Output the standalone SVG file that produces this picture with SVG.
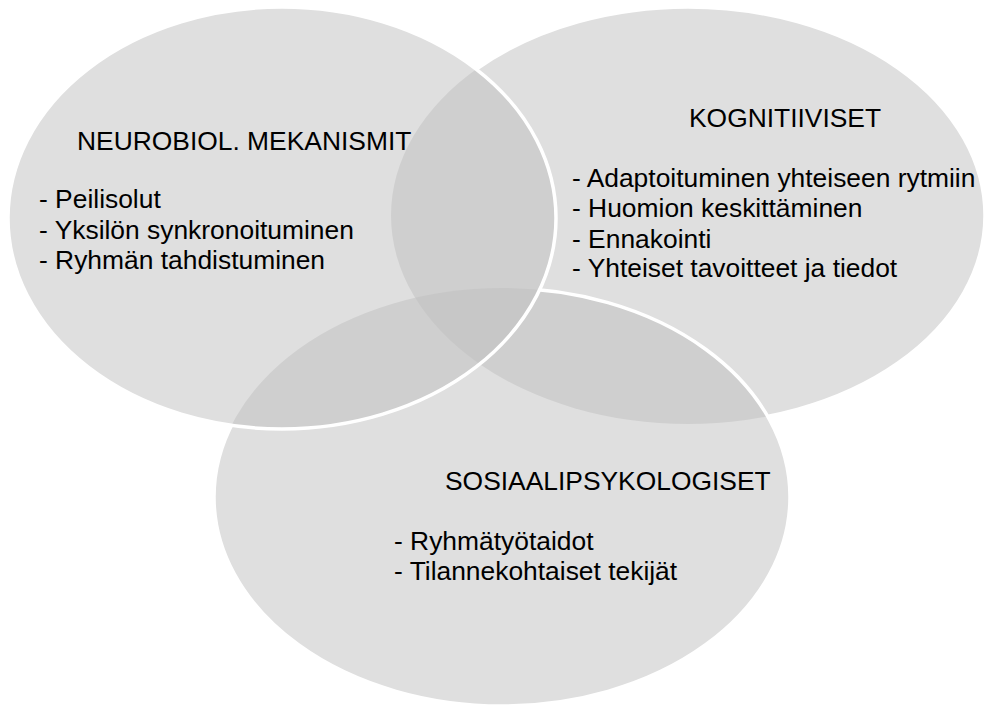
<svg xmlns="http://www.w3.org/2000/svg" width="985" height="707" viewBox="0 0 985 707">
  <style>
    .fill { fill: #bfbfbf; fill-opacity: 0.5; stroke: none; }
    .edge { fill: none; stroke: #ffffff; stroke-width: 3.5; }
    text { font-family: "Liberation Sans", Arial, sans-serif; font-size: 26.4px; fill: #000000; }
  </style>
  <defs>
    <!-- the outline of a set is hidden where a set drawn later lies over it -->
    <mask id="mask-kog" maskUnits="userSpaceOnUse" x="0" y="0" width="985" height="707">
      <rect x="0" y="0" width="985" height="707" fill="#fff"/>
      <ellipse cx="502" cy="497" rx="288" ry="209" fill="#000"/>
      <ellipse cx="282" cy="218" rx="274" ry="211" fill="#000"/>
    </mask>
    <mask id="mask-sos" maskUnits="userSpaceOnUse" x="0" y="0" width="985" height="707">
      <rect x="0" y="0" width="985" height="707" fill="#fff"/>
      <ellipse cx="282" cy="218" rx="274" ry="211" fill="#000"/>
    </mask>
  </defs>

  <rect x="0" y="0" width="985" height="707" fill="#ffffff"/>

  <!-- cognitive set (right) -->
  <g id="kognitiiviset">
    <ellipse class="fill" cx="688" cy="215.5" rx="297" ry="208.5"/>
    <ellipse class="edge" cx="688" cy="215.5" rx="297" ry="208.5" mask="url(#mask-kog)"/>
    <text x="689" y="127">KOGNITIIVISET</text>
    <text x="572" y="187">- Adaptoituminen yhteiseen rytmiin</text>
    <text x="572" y="217">- Huomion keskittäminen</text>
    <text x="572" y="247.5">- Ennakointi</text>
    <text x="572" y="277">- Yhteiset tavoitteet ja tiedot</text>
  </g>

  <!-- social-psychological set (bottom) -->
  <g id="sosiaalipsykologiset">
    <ellipse class="fill" cx="502" cy="497" rx="288" ry="209"/>
    <ellipse class="edge" cx="502" cy="497" rx="288" ry="209" mask="url(#mask-sos)"/>
    <text x="445" y="490">SOSIAALIPSYKOLOGISET</text>
    <text x="394" y="550">- Ryhmätyötaidot</text>
    <text x="394" y="580">- Tilannekohtaiset tekijät</text>
  </g>

  <!-- neurobiological set (left) -->
  <g id="neurobiol">
    <ellipse class="fill" cx="282" cy="218" rx="274" ry="211"/>
    <ellipse class="edge" cx="282" cy="218" rx="274" ry="211"/>
    <text x="77" y="150">NEUROBIOL. MEKANISMIT</text>
    <text x="39" y="208">- Peilisolut</text>
    <text x="39" y="238.5">- Yksilön synkronoituminen</text>
    <text x="39" y="269">- Ryhmän tahdistuminen</text>
  </g>

  <!-- the diagram has no connectors -->
  <g id="connectors"></g>
</svg>
